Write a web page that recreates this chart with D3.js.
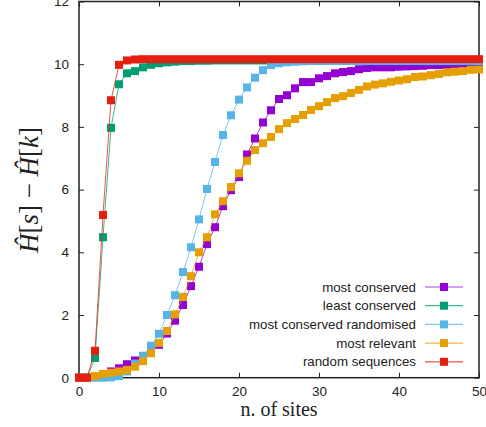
<!DOCTYPE html>
<html lang="en">
<head>
  <meta charset="utf-8">
  <title>Chart</title>
  <style>
    body { margin: 0; background: #fff; }
    text { font-family: "Liberation Sans", Arial, sans-serif; fill: #222; }
  </style>
</head>
<body>
  <script src="https://d3js.org/d3.v7.min.js"></script>
  <div id="chart"></div>
  <script type="text/javascript">
    // n. of sites (x categories)
    var sites = [0,1,2,3,4,5,6,7,8,9,10,11,12,13,14,15,16,17,18,19,20,
      21,22,23,24,25,26,27,28,29,30,31,32,33,34,35,36,37,38,39,40,
      41,42,43,44,45,46,47,48,49,50];

    var mostConserved = [0,0,0.03,0.12,0.2,0.3,0.43,0.55,0.65,0.85,1.05,
      1.41,1.82,2.32,2.92,3.54,4.26,4.8,5.47,5.98,6.4,
      7.12,7.63,8.14,8.53,8.89,9.01,9.23,9.43,9.43,9.55,
      9.62,9.71,9.75,9.78,9.84,9.88,9.9,9.9,9.9,9.92,
      9.93,9.94,9.95,9.97,9.97,9.98,9.99,10.0,10.01,10.02];

    var leastConserved = [0,0,0.63,4.48,7.97,9.36,9.71,9.78,9.9,9.98,10.03,
      10.06,10.08,10.1,10.1,10.11,10.11,10.12,10.12,10.12,10.12,
      10.12,10.12,10.12,10.12,10.12,10.12,10.12,10.12,10.12,10.12,
      10.13,10.13,10.13,10.13,10.13,10.13,10.13,10.13,10.13,10.13,
      10.13,10.13,10.13,10.13,10.13,10.13,10.13,10.13,10.13,10.13];

    var mostConservedRandomised = [0,0,0,0,0.01,0.05,0.2,0.45,0.7,1.02,1.4,
      2.0,2.63,3.37,4.16,5.05,6.02,6.88,7.74,8.37,8.87,
      9.26,9.57,9.81,9.97,10.03,10.06,10.08,10.09,10.1,10.1,
      10.1,10.1,10.1,10.1,10.1,10.1,10.1,10.1,10.1,10.1,
      10.1,10.1,10.1,10.1,10.1,10.1,10.1,10.1,10.1,10.1];

    var mostRelevant = [0,0,0.05,0.12,0.16,0.2,0.25,0.35,0.53,0.78,1.11,
      1.49,2.02,2.58,3.24,4.0,4.48,5.21,5.63,6.08,6.52,
      6.92,7.26,7.48,7.68,7.93,8.12,8.25,8.38,8.54,8.66,
      8.79,8.92,8.98,9.08,9.18,9.29,9.35,9.39,9.44,9.48,
      9.52,9.59,9.61,9.65,9.69,9.74,9.76,9.78,9.82,9.83];

    var randomSequences = [0,0,0.86,5.19,8.85,9.98,10.12,10.15,10.16,10.16,10.16,
      10.16,10.16,10.16,10.16,10.16,10.16,10.16,10.16,10.16,10.16,
      10.16,10.16,10.16,10.16,10.16,10.16,10.16,10.16,10.16,10.16,
      10.16,10.16,10.16,10.16,10.16,10.16,10.16,10.16,10.16,10.16,
      10.16,10.16,10.16,10.16,10.16,10.16,10.16,10.16,10.16,10.16];

    var seriesNames = ["most conserved", "least conserved", "most conserved randomised",
      "most relevant", "random sequences"];
    var seriesValues = [mostConserved, leastConserved, mostConservedRandomised,
      mostRelevant, randomSequences];
    var seriesColors = ["#9400d3", "#009e73", "#56b4e9", "#e69f00", "#e51e10"];

    var xTicks = [0, 10, 20, 30, 40, 50];
    var yTicks = [0, 2, 4, 6, 8, 10, 12];

    var width = 486, height = 427;
    // plot edges (note: "top" is taken by window.top, so use p* names)
    var pLeft = 79, pRight = 479, pTop = 1.5, pBottom = 377.7;

    var svg = d3.select("#chart")
      .append("svg")
      .attr("width", width)
      .attr("height", height);

    var x = d3.scaleLinear().domain([0, 50]).range([pLeft, pRight]);
    var y = d3.scaleLinear().domain([0, 12]).range([pBottom, pTop]);

    // ticks on all four sides, pointing in
    var tickLen = 5;
    svg.append("g")
      .attr("transform", "translate(0," + pBottom + ")")
      .call(d3.axisBottom(x).tickValues(xTicks).tickSizeInner(-tickLen).tickSizeOuter(0).tickPadding(9).tickFormat(d3.format("d")))
      .call(function(g) { g.select(".domain").remove(); })
      .call(function(g) { g.selectAll("text").style("font-size", "13.5px").attr("fill", "#222"); });

    svg.append("g")
      .attr("transform", "translate(0," + pTop + ")")
      .call(d3.axisTop(x).tickValues(xTicks).tickSizeInner(-tickLen).tickSizeOuter(0).tickFormat(""))
      .call(function(g) { g.select(".domain").remove(); });

    svg.append("g")
      .attr("transform", "translate(" + pLeft + ",0)")
      .call(d3.axisLeft(y).tickValues(yTicks).tickSizeInner(-tickLen).tickSizeOuter(0).tickPadding(10).tickFormat(d3.format("d")))
      .call(function(g) { g.select(".domain").remove(); })
      .call(function(g) { g.selectAll("text").style("font-size", "13.5px").attr("fill", "#222"); });

    svg.append("g")
      .attr("transform", "translate(" + pRight + ",0)")
      .call(d3.axisRight(y).tickValues(yTicks).tickSizeInner(-tickLen).tickSizeOuter(0).tickFormat(""))
      .call(function(g) { g.select(".domain").remove(); });

    svg.selectAll(".tick line").attr("stroke", "#222");

    // plot border
    svg.append("rect")
      .attr("x", pLeft)
      .attr("y", pTop)
      .attr("width", pRight - pLeft)
      .attr("height", pBottom - pTop)
      .attr("fill", "none")
      .attr("stroke", "#222")
      .attr("stroke-width", 1.5);

    var line = d3.line()
      .x(function(d) { return x(d[0]); })
      .y(function(d) { return y(d[1]); });

    var sq = 8;

    // draw each series in order: line then squares
    seriesValues.forEach(function(vals, i) {
      var pts = sites.map(function(s, j) { return [s, vals[j]]; });
      var g = svg.append("g");
      g.append("path")
        .datum(pts)
        .attr("d", line)
        .attr("fill", "none")
        .attr("stroke", seriesColors[i])
        .attr("stroke-opacity", 0.75)
        .attr("stroke-width", 1);
      g.selectAll("rect")
        .data(pts)
        .enter().append("rect")
        .attr("x", function(d) { return x(d[0]) - sq / 2; })
        .attr("y", function(d) { return y(d[1]) - sq / 2; })
        .attr("width", sq)
        .attr("height", sq)
        .attr("fill", seriesColors[i]);
    });

    // legend
    var legY0 = 287, legDy = 18.7;
    var legend = svg.append("g");
    seriesNames.forEach(function(name, i) {
      var ly = legY0 + i * legDy;
      legend.append("text")
        .attr("x", 416)
        .attr("y", ly)
        .attr("dy", "0.35em")
        .attr("text-anchor", "end")
        .style("font-size", "13.3px")
        .text(name);
      legend.append("line")
        .attr("x1", 425).attr("x2", 463)
        .attr("y1", ly).attr("y2", ly)
        .attr("stroke", seriesColors[i])
        .attr("stroke-opacity", 0.75)
        .attr("stroke-width", 1.2);
      legend.append("rect")
        .attr("x", 444 - sq / 2)
        .attr("y", ly - sq / 2)
        .attr("width", sq)
        .attr("height", sq)
        .attr("fill", seriesColors[i]);
    });

    // axis titles
    svg.append("text")
      .attr("x", 279)
      .attr("y", 416)
      .attr("text-anchor", "middle")
      .style("font-family", "'Liberation Serif', 'DejaVu Serif', serif")
      .style("font-size", "20px")
      .text("n. of sites");

    var ylab = svg.append("text")
      .attr("transform", "translate(38,190) rotate(-90)")
      .attr("text-anchor", "middle")
      .style("font-family", "'Liberation Serif', 'DejaVu Serif', serif")
      .style("font-size", "27px");
    ylab.append("tspan").style("font-style", "italic").text("\u0124");
    ylab.append("tspan").text("[");
    ylab.append("tspan").style("font-style", "italic").text("s");
    ylab.append("tspan").text("] \u2212 ");
    ylab.append("tspan").style("font-style", "italic").text("\u0124");
    ylab.append("tspan").text("[");
    ylab.append("tspan").style("font-style", "italic").text("k");
    ylab.append("tspan").text("]");
  </script>
</body>
</html>
